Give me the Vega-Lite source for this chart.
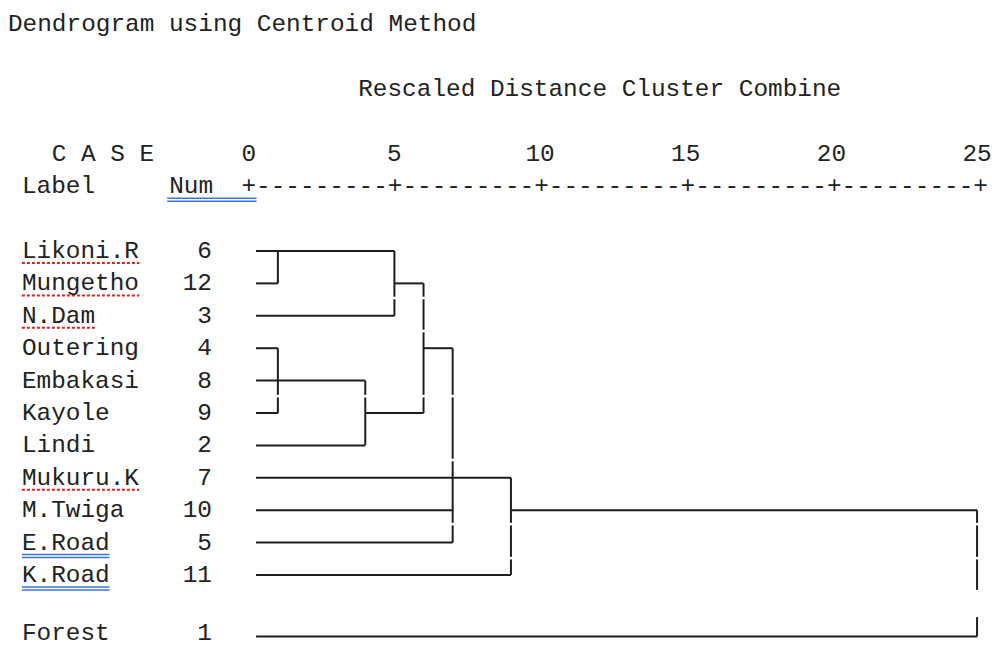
{
  "$schema": "https://vega.github.io/schema/vega-lite/v6.json",
  "width": 992,
  "height": 648,
  "padding": 0,
  "autosize": {"type": "fit", "contains": "padding"},
  "background": "white",
  "config": {"view": {"stroke": null}},
  "datasets": {
    "segments": [
      {"x1": 0.25, "x2": 5, "y1": 0, "y2": 0},
      {"x1": 0.25, "x2": 1, "y1": 1, "y2": 1},
      {"x1": 0.25, "x2": 5, "y1": 2, "y2": 2},
      {"x1": 5, "x2": 6, "y1": 1, "y2": 1},
      {"x1": 0.25, "x2": 1, "y1": 3, "y2": 3},
      {"x1": 0.25, "x2": 4, "y1": 4, "y2": 4},
      {"x1": 0.25, "x2": 1, "y1": 5, "y2": 5},
      {"x1": 0.25, "x2": 4, "y1": 6, "y2": 6},
      {"x1": 4, "x2": 6, "y1": 5, "y2": 5},
      {"x1": 6, "x2": 7, "y1": 3, "y2": 3},
      {"x1": 0.25, "x2": 9, "y1": 7, "y2": 7},
      {"x1": 0.25, "x2": 7, "y1": 8, "y2": 8},
      {"x1": 0.25, "x2": 7, "y1": 9, "y2": 9},
      {"x1": 9, "x2": 25, "y1": 8, "y2": 8},
      {"x1": 0.25, "x2": 9, "y1": 10, "y2": 10},
      {"x1": 0.25, "x2": 25, "y1": 11.9, "y2": 11.9},
      {"x1": 1, "x2": 1, "y1": 0, "y2": 1},
      {"x1": 5, "x2": 5, "y1": 0, "y2": 1.41},
      {"x1": 5, "x2": 5, "y1": 1.49, "y2": 2},
      {"x1": 6, "x2": 6, "y1": 1, "y2": 1.41},
      {"x1": 6, "x2": 6, "y1": 1.49, "y2": 2.43},
      {"x1": 6, "x2": 6, "y1": 2.51, "y2": 4.44},
      {"x1": 6, "x2": 6, "y1": 4.52, "y2": 5},
      {"x1": 1, "x2": 1, "y1": 3, "y2": 4.44},
      {"x1": 1, "x2": 1, "y1": 4.52, "y2": 5},
      {"x1": 4, "x2": 4, "y1": 4, "y2": 4.44},
      {"x1": 4, "x2": 4, "y1": 4.52, "y2": 6},
      {"x1": 7, "x2": 7, "y1": 3, "y2": 4.44},
      {"x1": 7, "x2": 7, "y1": 4.52, "y2": 6.41},
      {"x1": 7, "x2": 7, "y1": 6.49, "y2": 8.39},
      {"x1": 7, "x2": 7, "y1": 8.47, "y2": 9},
      {"x1": 9, "x2": 9, "y1": 7, "y2": 8.39},
      {"x1": 9, "x2": 9, "y1": 8.47, "y2": 9.44},
      {"x1": 9, "x2": 9, "y1": 9.52, "y2": 10},
      {"x1": 25, "x2": 25, "y1": 8, "y2": 8.39},
      {"x1": 25, "x2": 25, "y1": 8.47, "y2": 9.44},
      {"x1": 25, "x2": 25, "y1": 9.52, "y2": 10.46},
      {"x1": 25, "x2": 25, "y1": 11.3, "y2": 11.9}
    ],
    "cases": [
      {"label": "Likoni.R", "num": "6", "row": 0},
      {"label": "Mungetho", "num": "12", "row": 1},
      {"label": "N.Dam", "num": "3", "row": 2},
      {"label": "Outering", "num": "4", "row": 3},
      {"label": "Embakasi", "num": "8", "row": 4},
      {"label": "Kayole", "num": "9", "row": 5},
      {"label": "Lindi", "num": "2", "row": 6},
      {"label": "Mukuru.K", "num": "7", "row": 7},
      {"label": "M.Twiga", "num": "10", "row": 8},
      {"label": "E.Road", "num": "5", "row": 9},
      {"label": "K.Road", "num": "11", "row": 10},
      {"label": "Forest", "num": "1", "row": 11.8}
    ],
    "headers": [
      {"text": "Dendrogram using Centroid Method", "x": -8.265, "row": -7},
      {"text": "Rescaled Distance Cluster Combine", "x": 3.757, "row": -5},
      {"text": "C A S E", "x": -6.762, "row": -3},
      {"text": "Label", "x": -7.787, "row": -2},
      {"text": "Num", "x": -2.732, "row": -2},
      {"text": "+---------+---------+---------+---------+---------+", "x": -0.25, "row": -2}
    ],
    "ticks": [
      {"value": 0}, {"value": 5}, {"value": 10}, {"value": 15}, {"value": 20}, {"value": 25}
    ],
    "underlines": [
      {"kind": "blue", "x1": -2.8, "x2": 0.27, "row": -2},
      {"kind": "blue", "x1": -7.787, "x2": -4.78, "row": 9},
      {"kind": "blue", "x1": -7.787, "x2": -4.78, "row": 10},
      {"kind": "red", "x1": -7.787, "x2": -3.757, "row": 0},
      {"kind": "red", "x1": -7.787, "x2": -3.757, "row": 1},
      {"kind": "red", "x1": -7.787, "x2": -5.225, "row": 2},
      {"kind": "red", "x1": -7.787, "x2": -3.757, "row": 7}
    ]
  },
  "encoding": {},
  "resolve": {"scale": {"x": "shared", "y": "shared"}},
  "layer": [
    {
      "data": {"name": "segments"},
      "mark": {"type": "rule", "stroke": "#1e1e1e", "strokeWidth": 2},
      "encoding": {
        "x": {"field": "x1", "type": "quantitative", "scale": {"domain": [-8.5383, 25.3415], "nice": false, "zero": false}, "axis": null},
        "x2": {"field": "x2"},
        "y": {"field": "y1", "type": "quantitative", "scale": {"domain": [-7.7469, 12.2531], "nice": false, "zero": false, "reverse": true}, "axis": null},
        "y2": {"field": "y2"}
      }
    },
    {
      "data": {"name": "underlines"},
      "transform": [{"filter": "datum.kind === 'blue'"}],
      "mark": {"type": "rule", "stroke": "#3d74d9", "strokeWidth": 1.5, "yOffset": 12},
      "encoding": {
        "x": {"field": "x1", "type": "quantitative"},
        "x2": {"field": "x2"},
        "y": {"field": "row", "type": "quantitative"}
      }
    },
    {
      "data": {"name": "underlines"},
      "transform": [{"filter": "datum.kind === 'blue'"}],
      "mark": {"type": "rule", "stroke": "#3d74d9", "strokeWidth": 1.5, "yOffset": 15},
      "encoding": {
        "x": {"field": "x1", "type": "quantitative"},
        "x2": {"field": "x2"},
        "y": {"field": "row", "type": "quantitative"}
      }
    },
    {
      "data": {"name": "underlines"},
      "transform": [{"filter": "datum.kind === 'red'"}],
      "mark": {"type": "rule", "stroke": "#e02020", "strokeWidth": 2, "strokeDash": [3, 2], "yOffset": 12},
      "encoding": {
        "x": {"field": "x1", "type": "quantitative"},
        "x2": {"field": "x2"},
        "y": {"field": "row", "type": "quantitative"}
      }
    },
    {
      "data": {"name": "headers"},
      "mark": {"type": "text", "align": "left", "baseline": "middle", "font": "Liberation Mono", "fontSize": 24.4, "color": "#222222"},
      "encoding": {
        "x": {"field": "x", "type": "quantitative"},
        "y": {"field": "row", "type": "quantitative"},
        "text": {"field": "text"}
      }
    },
    {
      "data": {"name": "ticks"},
      "mark": {"type": "text", "align": "center", "baseline": "middle", "font": "Liberation Mono", "fontSize": 24.4, "color": "#222222"},
      "encoding": {
        "x": {"field": "value", "type": "quantitative"},
        "y": {"datum": -3, "type": "quantitative"},
        "text": {"field": "value", "type": "quantitative"}
      }
    },
    {
      "data": {"name": "cases"},
      "mark": {"type": "text", "align": "left", "baseline": "middle", "font": "Liberation Mono", "fontSize": 24.4, "color": "#222222"},
      "encoding": {
        "x": {"datum": -7.787, "type": "quantitative"},
        "y": {"field": "row", "type": "quantitative"},
        "text": {"field": "label"}
      }
    },
    {
      "data": {"name": "cases"},
      "mark": {"type": "text", "align": "right", "baseline": "middle", "font": "Liberation Mono", "fontSize": 24.4, "color": "#222222"},
      "encoding": {
        "x": {"datum": -1.264, "type": "quantitative"},
        "y": {"field": "row", "type": "quantitative"},
        "text": {"field": "num"}
      }
    }
  ]
}
